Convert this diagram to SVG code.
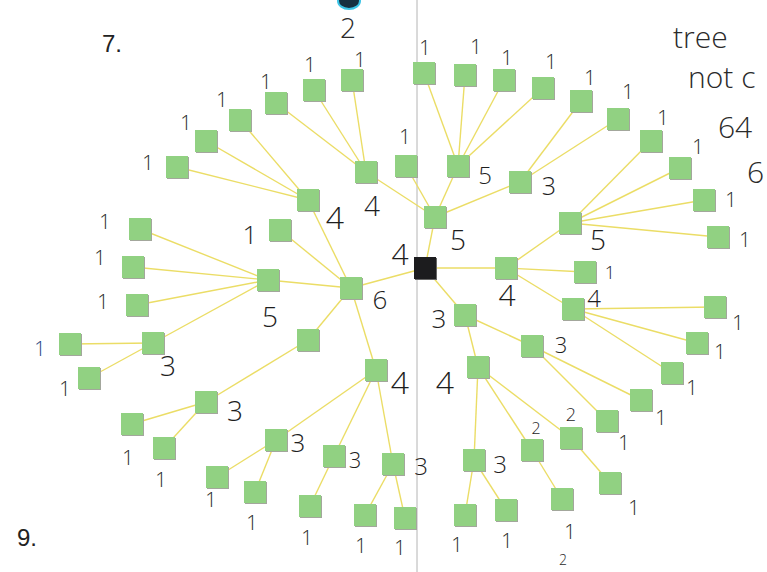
<svg xmlns="http://www.w3.org/2000/svg" xmlns:xlink="http://www.w3.org/1999/xlink" width="767" height="572" viewBox="0 0 767 572">
<style>
.e{stroke:#ebdd66;stroke-width:1.4;fill:none}
.t{font-family:"Open Sans","DejaVu Sans",sans-serif;font-weight:300;fill:#1e1e1e;text-anchor:middle}
.o{font-size:20px}
.p{font-family:"Liberation Sans",Arial,sans-serif;fill:#222;font-size:24px}
.h{font-family:"Open Sans","DejaVu Sans",sans-serif;font-weight:300;fill:#2a2a2a}
</style>
<defs>
<g id="nd"><rect x="-10" y="-10" width="22" height="22" fill="#a3a79c"/><rect x="-11" y="-11" width="22" height="22" fill="#91d182"/></g>
<g id="rt"><rect x="-10" y="-10" width="22" height="22" fill="#666"/><rect x="-11" y="-11" width="22" height="22" fill="#1c1c1e"/></g>
</defs>
<rect width="767" height="572" fill="#ffffff"/>
<line x1="417" y1="0" x2="417" y2="572" stroke="#b4b4b4" stroke-width="1"/>
<ellipse cx="349" cy="1" rx="11" ry="8" fill="#173040" stroke="#3cc4e6" stroke-width="2"/>
<text class="p" x="102" y="52">7.</text>
<text class="p" x="17" y="546">9.</text>
<text class="h" x="348" y="38" font-size="28" text-anchor="middle">2</text>
<text class="h" x="563" y="565" font-size="14" text-anchor="middle">2</text>
<text class="h" x="673" y="48" font-size="30">tree</text>
<text class="h" x="688" y="88" font-size="30">not c</text>
<text class="h" x="718" y="138" font-size="30">64</text>
<text class="h" x="747" y="183" font-size="30">6</text>
<g id="connectors">
<line class="e" x1="425" y1="268" x2="351" y2="288"/>
<line class="e" x1="425" y1="268" x2="435" y2="217"/>
<line class="e" x1="425" y1="268" x2="506" y2="268"/>
<line class="e" x1="425" y1="268" x2="465" y2="315"/>
<line class="e" x1="351" y1="288" x2="308" y2="200"/>
<line class="e" x1="351" y1="288" x2="280" y2="230"/>
<line class="e" x1="351" y1="288" x2="268" y2="280"/>
<line class="e" x1="351" y1="288" x2="308" y2="340"/>
<line class="e" x1="351" y1="288" x2="376" y2="370"/>
<line class="e" x1="308" y1="200" x2="240" y2="120"/>
<line class="e" x1="308" y1="200" x2="206" y2="141"/>
<line class="e" x1="308" y1="200" x2="177" y2="167"/>
<line class="e" x1="268" y1="280" x2="140" y2="229"/>
<line class="e" x1="268" y1="280" x2="133" y2="267"/>
<line class="e" x1="268" y1="280" x2="137" y2="305"/>
<line class="e" x1="268" y1="280" x2="153" y2="343"/>
<line class="e" x1="153" y1="343" x2="70" y2="344"/>
<line class="e" x1="153" y1="343" x2="89" y2="378"/>
<line class="e" x1="308" y1="340" x2="206" y2="402"/>
<line class="e" x1="206" y1="402" x2="132" y2="424"/>
<line class="e" x1="206" y1="402" x2="164" y2="448"/>
<line class="e" x1="376" y1="370" x2="276" y2="440"/>
<line class="e" x1="376" y1="370" x2="334" y2="456"/>
<line class="e" x1="376" y1="370" x2="393" y2="464"/>
<line class="e" x1="276" y1="440" x2="217" y2="477"/>
<line class="e" x1="276" y1="440" x2="255" y2="492"/>
<line class="e" x1="334" y1="456" x2="310" y2="506"/>
<line class="e" x1="393" y1="464" x2="365" y2="515"/>
<line class="e" x1="393" y1="464" x2="405" y2="518"/>
<line class="e" x1="435" y1="217" x2="366" y2="172"/>
<line class="e" x1="435" y1="217" x2="406" y2="166"/>
<line class="e" x1="435" y1="217" x2="458" y2="166"/>
<line class="e" x1="435" y1="217" x2="520" y2="182"/>
<line class="e" x1="366" y1="172" x2="352" y2="80"/>
<line class="e" x1="366" y1="172" x2="314" y2="90"/>
<line class="e" x1="366" y1="172" x2="276" y2="103"/>
<line class="e" x1="458" y1="166" x2="424" y2="73"/>
<line class="e" x1="458" y1="166" x2="465" y2="75"/>
<line class="e" x1="458" y1="166" x2="504" y2="80"/>
<line class="e" x1="458" y1="166" x2="543" y2="88"/>
<line class="e" x1="520" y1="182" x2="581" y2="101"/>
<line class="e" x1="520" y1="182" x2="618" y2="119"/>
<line class="e" x1="506" y1="268" x2="570" y2="223"/>
<line class="e" x1="506" y1="268" x2="585" y2="272"/>
<line class="e" x1="506" y1="268" x2="573" y2="309"/>
<line class="e" x1="570" y1="223" x2="651" y2="141"/>
<line class="e" x1="570" y1="223" x2="680" y2="168"/>
<line class="e" x1="570" y1="223" x2="704" y2="200"/>
<line class="e" x1="570" y1="223" x2="718" y2="237"/>
<line class="e" x1="573" y1="309" x2="715" y2="307"/>
<line class="e" x1="573" y1="309" x2="697" y2="343"/>
<line class="e" x1="573" y1="309" x2="672" y2="373"/>
<line class="e" x1="465" y1="315" x2="532" y2="346"/>
<line class="e" x1="465" y1="315" x2="478" y2="367"/>
<line class="e" x1="532" y1="346" x2="641" y2="400"/>
<line class="e" x1="532" y1="346" x2="607" y2="421"/>
<line class="e" x1="478" y1="367" x2="474" y2="460"/>
<line class="e" x1="478" y1="367" x2="532" y2="450"/>
<line class="e" x1="478" y1="367" x2="571" y2="438"/>
<line class="e" x1="474" y1="460" x2="465" y2="515"/>
<line class="e" x1="474" y1="460" x2="506" y2="510"/>
<line class="e" x1="532" y1="450" x2="562" y2="499"/>
<line class="e" x1="571" y1="438" x2="610" y2="483"/>
</g>
<g id="root"><use xlink:href="#rt" x="425" y="268"/><text class="t" x="400" y="265" font-size="30">4</text></g>
<g id="n6"><use xlink:href="#nd" x="351" y="288"/><text class="t" x="380" y="309" font-size="26">6</text></g>
<g id="n4a"><use xlink:href="#nd" x="308" y="200"/><text class="t" x="335" y="229" font-size="32">4</text></g>
<g id="n1a"><use xlink:href="#nd" x="280" y="230"/><text class="t" x="250" y="244" font-size="26">1</text></g>
<g id="n5a"><use xlink:href="#nd" x="268" y="280"/><text class="t" x="270" y="327" font-size="28">5</text></g>
<g id="n2x"><use xlink:href="#nd" x="308" y="340"/></g>
<g id="n4b"><use xlink:href="#nd" x="376" y="370"/><text class="t" x="400" y="394" font-size="32">4</text></g>
<g id="n3a"><use xlink:href="#nd" x="153" y="343"/><text class="t" x="168" y="376" font-size="28">3</text></g>
<g id="n3b"><use xlink:href="#nd" x="206" y="402"/><text class="t" x="235" y="421" font-size="28">3</text></g>
<g id="e3a"><use xlink:href="#nd" x="276" y="440"/><text class="t" x="298" y="452" font-size="26">3</text></g>
<g id="e3b"><use xlink:href="#nd" x="334" y="456"/><text class="t" x="355" y="468" font-size="22">3</text></g>
<g id="e3c"><use xlink:href="#nd" x="393" y="464"/><text class="t" x="421" y="475" font-size="24">3</text></g>
<g id="b5"><use xlink:href="#nd" x="435" y="217"/><text class="t" x="458" y="250" font-size="28">5</text></g>
<g id="b4"><use xlink:href="#nd" x="366" y="172"/><text class="t" x="372" y="216" font-size="28">4</text></g>
<g id="b1"><use xlink:href="#nd" x="406" y="166"/><text class="t" x="405" y="144" font-size="20">1</text></g>
<g id="b5b"><use xlink:href="#nd" x="458" y="166"/><text class="t" x="485" y="184" font-size="24">5</text></g>
<g id="b3"><use xlink:href="#nd" x="520" y="182"/><text class="t" x="549" y="195" font-size="25">3</text></g>
<g id="c4"><use xlink:href="#nd" x="506" y="268"/><text class="t" x="507" y="306" font-size="30">4</text></g>
<g id="c5"><use xlink:href="#nd" x="570" y="223"/><text class="t" x="598" y="250" font-size="28">5</text></g>
<g id="c1"><use xlink:href="#nd" x="585" y="272"/><text class="t" x="610" y="279" font-size="18">1</text></g>
<g id="c4b"><use xlink:href="#nd" x="573" y="309"/><text class="t" x="594" y="307" font-size="24">4</text></g>
<g id="d3"><use xlink:href="#nd" x="465" y="315"/><text class="t" x="439" y="328" font-size="26">3</text></g>
<g id="d3b"><use xlink:href="#nd" x="532" y="346"/><text class="t" x="561" y="353" font-size="22">3</text></g>
<g id="d4"><use xlink:href="#nd" x="478" y="367"/><text class="t" x="445" y="394" font-size="32">4</text></g>
<g id="d3c"><use xlink:href="#nd" x="474" y="460"/><text class="t" x="500" y="473" font-size="24">3</text></g>
<g id="d2a"><use xlink:href="#nd" x="532" y="450"/><text class="t" x="536" y="434" font-size="16">2</text></g>
<g id="d2b"><use xlink:href="#nd" x="571" y="438"/><text class="t" x="571" y="421" font-size="18">2</text></g>
<g id="l01"><use xlink:href="#nd" x="352" y="80"/><text class="t o" x="360" y="67">1</text></g>
<g id="l02"><use xlink:href="#nd" x="314" y="90"/><text class="t o" x="310" y="72">1</text></g>
<g id="l03"><use xlink:href="#nd" x="276" y="103"/><text class="t o" x="266" y="89">1</text></g>
<g id="l04"><use xlink:href="#nd" x="240" y="120"/><text class="t o" x="222" y="107">1</text></g>
<g id="l05"><use xlink:href="#nd" x="206" y="141"/><text class="t o" x="186" y="130">1</text></g>
<g id="l06"><use xlink:href="#nd" x="177" y="167"/><text class="t o" x="148" y="170">1</text></g>
<g id="l07"><use xlink:href="#nd" x="140" y="229"/><text class="t o" x="105" y="229">1</text></g>
<g id="l08"><use xlink:href="#nd" x="133" y="267"/><text class="t o" x="100" y="265">1</text></g>
<g id="l09"><use xlink:href="#nd" x="137" y="305"/><text class="t o" x="103" y="309">1</text></g>
<g id="l10"><use xlink:href="#nd" x="70" y="344"/><text class="t o" x="40" y="356" style="fill:#23407e">1</text></g>
<g id="l11"><use xlink:href="#nd" x="89" y="378"/><text class="t o" x="65" y="396">1</text></g>
<g id="l12"><use xlink:href="#nd" x="132" y="424"/><text class="t o" x="128" y="465">1</text></g>
<g id="l13"><use xlink:href="#nd" x="164" y="448"/><text class="t o" x="161" y="487">1</text></g>
<g id="l14"><use xlink:href="#nd" x="217" y="477"/><text class="t o" x="211" y="507">1</text></g>
<g id="l15"><use xlink:href="#nd" x="255" y="492"/><text class="t o" x="252" y="530">1</text></g>
<g id="l16"><use xlink:href="#nd" x="310" y="506"/><text class="t o" x="307" y="545">1</text></g>
<g id="l17"><use xlink:href="#nd" x="365" y="515"/><text class="t o" x="361" y="553">1</text></g>
<g id="l18"><use xlink:href="#nd" x="405" y="518"/><text class="t o" x="400" y="555">1</text></g>
<g id="l19"><use xlink:href="#nd" x="424" y="73"/><text class="t o" x="425" y="55">1</text></g>
<g id="l20"><use xlink:href="#nd" x="465" y="75"/><text class="t o" x="476" y="54">1</text></g>
<g id="l21"><use xlink:href="#nd" x="504" y="80"/><text class="t o" x="507" y="65">1</text></g>
<g id="l22"><use xlink:href="#nd" x="543" y="88"/><text class="t o" x="551" y="69">1</text></g>
<g id="l23"><use xlink:href="#nd" x="581" y="101"/><text class="t o" x="590" y="85">1</text></g>
<g id="l24"><use xlink:href="#nd" x="618" y="119"/><text class="t o" x="628" y="99">1</text></g>
<g id="l25"><use xlink:href="#nd" x="651" y="141"/><text class="t o" x="663" y="125">1</text></g>
<g id="l26"><use xlink:href="#nd" x="680" y="168"/><text class="t o" x="698" y="154">1</text></g>
<g id="l27"><use xlink:href="#nd" x="704" y="200"/><text class="t o" x="731" y="207">1</text></g>
<g id="l28"><use xlink:href="#nd" x="718" y="237"/><text class="t o" x="745" y="247">1</text></g>
<g id="l29"><use xlink:href="#nd" x="715" y="307"/><text class="t o" x="738" y="330">1</text></g>
<g id="l30"><use xlink:href="#nd" x="697" y="343"/><text class="t o" x="720" y="359">1</text></g>
<g id="l31"><use xlink:href="#nd" x="672" y="373"/><text class="t o" x="692" y="395">1</text></g>
<g id="l32"><use xlink:href="#nd" x="641" y="400"/><text class="t o" x="661" y="425">1</text></g>
<g id="l33"><use xlink:href="#nd" x="607" y="421"/><text class="t o" x="624" y="450">1</text></g>
<g id="l34"><use xlink:href="#nd" x="465" y="515"/><text class="t o" x="457" y="552">1</text></g>
<g id="l35"><use xlink:href="#nd" x="506" y="510"/><text class="t o" x="507" y="548">1</text></g>
<g id="l36"><use xlink:href="#nd" x="562" y="499"/><text class="t o" x="570" y="539">1</text></g>
<g id="l37"><use xlink:href="#nd" x="610" y="483"/><text class="t o" x="634" y="515">1</text></g>
</svg>
